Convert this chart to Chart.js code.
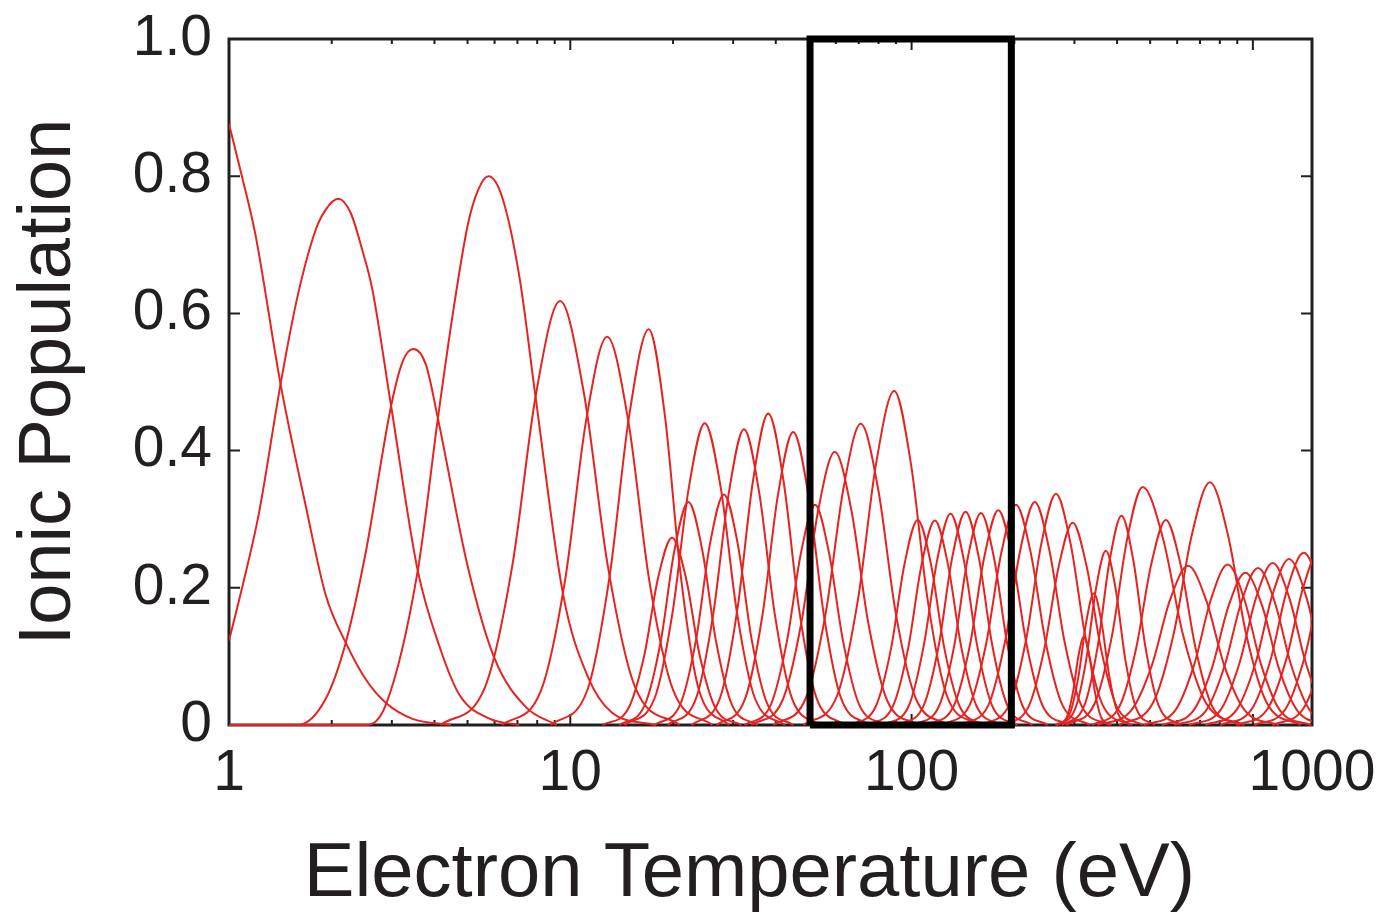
<!DOCTYPE html>
<html>
<head>
<meta charset="utf-8">
<script src="https://cdn.jsdelivr.net/npm/chart.js@4.4.1/dist/chart.umd.min.js"></script>
<style>
  html, body { margin: 0; padding: 0; background: #fff; }
  canvas { display: block; }
</style>
</head>
<body>
<canvas id="pop" width="1386" height="919"></canvas>
<script>
// ionic population curves, [electron temperature (eV), population]
const ion00 = [[1,.876],[1.091,.80],[1.194,.716],[1.416,.497],[1.679,.319],[1.919,.19],[2.198,.12],[2.512,.067],[2.884,.032],[3.451,.009],[4.467,0]];
const ion01 = [[1,.123],[1.091,.199],[1.222,.307],[1.416,.497],[1.585,.623],[1.795,.722],[1.919,.751],[2.089,.767],[2.275,.746],[2.455,.693],[2.630,.635],[2.985,.465],[3.573,.225],[4.140,.114],[4.732,.044],[5.754,.01],[7.079,0]];
const ion02 = [[1,0],[1.585,0],[1.919,.038],[2.198,.12],[2.512,.25],[2.985,.465],[3.228,.53],[3.467,.548],[3.776,.525],[4.093,.447],[5.012,.23],[5.998,.097],[7.413,.026],[9.120,0]];
const ion03 = [[1,0],[2.512,0],[2.884,.03],[3.573,.225],[4.093,.447],[4.529,.60],[5.012,.73],[5.370,.78],[5.754,.80],[6.310,.77],[7.112,.65],[7.907,.479],[9.528,.19],[11.22,.072],[13.18,.019],[17.78,0]];
const ion04 = [[4.169,0],[5.623,.055],[6.761,.232],[7.943,.484],[9.333,.618],[10.96,.484],[12.88,.232],[15.49,.055],[20.89,0]];
const ion05 = [[6.310,0],[8.204,.050],[9.661,.212],[11.12,.443],[12.82,.566],[14.79,.443],[17.02,.212],[20.04,.050],[26.06,0]];
const ion06 = [[8.770,0],[11.22,.051],[13.03,.216],[14.89,.452],[16.98,.577],[18.92,.452],[21.09,.216],[23.82,.051],[29.17,0]];
const ion07 = [[12.45,0],[14.79,.024],[16.48,.102],[18.07,.214],[19.86,.273],[21.83,.214],[23.93,.102],[26.67,.024],[31.70,0]];
const ion08 = [[13.90,0],[16.52,.029],[18.41,.122],[20.18,.254],[22.18,.325],[24.38,.254],[26.73,.122],[29.79,.029],[35.40,0]];
const ion09 = [[14.42,0],[17.66,.039],[19.95,.165],[22.23,.345],[24.77,.44],[27.61,.345],[30.76,.165],[34.75,.039],[42.56,0]];
const ion10 = [[17.66,0],[20.99,.030],[23.39,.126],[25.64,.263],[28.18,.336],[30.97,.263],[33.96,.126],[37.84,.030],[44.98,0]];
const ion11 = [[19.28,0],[23.33,.038],[26.24,.162],[29.11,.337],[32.28,.431],[35.81,.337],[39.72,.162],[44.67,.038],[54.08,0]];
const ion12 = [[22.70,0],[27.48,.040],[30.90,.170],[34.28,.355],[38.02,.454],[42.17,.355],[46.77,.170],[52.60,.040],[63.68,0]];
const ion13 = [[26.85,0],[32.51,.038],[36.56,.160],[40.55,.334],[44.98,.427],[49.89,.334],[55.34,.160],[62.23,.038],[75.34,0]];
const ion14 = [[32.43,0],[38.64,.029],[43.05,.120],[47.42,.251],[52.12,.321],[57.28,.251],[63.10,.120],[70.31,.029],[83.95,0]];
const ion15 = [[33.88,0],[41.78,.035],[47.53,.149],[53.21,.312],[59.57,.398],[66.68,.312],[74.65,.149],[84.92,.035],[104.7,0]];
const ion16 = [[39.40,0],[48.98,.039],[56.10,.165],[63.10,.344],[70.96,.439],[79.80,.344],[89.74,.165],[102.8,.039],[127.8,0]];
const ion17 = [[48.19,0],[60.53,.043],[69.66,.183],[78.70,.381],[88.92,.487],[99.54,.381],[111.4,.183],[126.8,.043],[156.3,0]];
const ion18 = [[66.37,0],[78.52,.027],[87.10,.112],[95.28,.234],[104.2,.299],[114.0,.234],[124.7,.112],[138.4,.027],[163.7,0]];
const ion19 = [[74.47,0],[88.10,.027],[97.72,.112],[106.9,.233],[117.0,.298],[127.9,.233],[140.0,.112],[155.2,.027],[183.7,0]];
const ion20 = [[82.79,0],[97.95,.027],[108.6,.116],[118.9,.241],[130.0,.308],[142.2,.241],[155.6,.116],[172.6,.027],[204.2,0]];
const ion21 = [[91.62,0],[108.4,.028],[120.2,.117],[131.5,.244],[143.9,.311],[157.4,.244],[172.2,.117],[191.0,.028],[225.9,0]];
const ion22 = [[101.6,0],[120.2,.027],[133.4,.116],[145.9,.242],[159.6,.309],[174.6,.242],[191.0,.116],[211.8,.027],[250.6,0]];
const ion23 = [[111.5,0],[133.0,.028],[148.3,.117],[163.3,.245],[179.5,.313],[197.2,.245],[217.3,.117],[242.1,.028],[288.7,0]];
const ion24 = [[122.7,0],[147.9,.029],[165.6,.120],[183.2,.251],[202.3,.321],[223.4,.251],[247.2,.120],[276.7,.029],[333.4,0]];
const ion25 = [[139.3,0],[167.9,.029],[187.9,.122],[208.0,.254],[229.6,.325],[253.5,.254],[280.5,.122],[314.1,.029],[378.4,0]];
const ion26 = [[160.7,0],[193.6,.030],[216.8,.126],[239.9,.264],[264.9,.337],[292.4,.264],[323.6,.126],[362.2,.030],[436.5,0]];
const ion27 = [[184.4,0],[219.8,.026],[244.9,.111],[269.8,.231],[296.5,.295],[325.8,.231],[358.9,.111],[399.9,.026],[477.0,0]];
const ion28 = [[265.8,0],[284.7,.011],[297.1,.048],[308.3,.101],[319.9,.129],[331.9,.101],[344.5,.048],[359.4,.011],[385.1,0]];
const ion29 = [[264.2,0],[290.9,.017],[308.5,.072],[324.8,.150],[342.0,.192],[360.1,.150],[379.2,.072],[402.3,.017],[442.6,0]];
const ion30 = [[266.4,0],[301.2,.023],[324.8,.095],[347.0,.199],[370.7,.254],[396.0,.199],[423.0,.095],[456.2,.023],[515.8,0]];
const ion31 = [[275.4,0],[319.9,.027],[350.8,.114],[380.2,.239],[412.1,.305],[446.7,.239],[484.2,.114],[530.9,.027],[616.6,0]];
const ion32 = [[283.8,0],[343.6,.031],[386.4,.130],[428.5,.272],[475.3,.347],[545.3,.272],[625.2,.130],[731.1,.031],[943.0,0]];
const ion33 = [[337.3,0],[406.4,.027],[455.0,.112],[503.5,.234],[555.9,.299],[613.8,.234],[679.2,.112],[760.3,.027],[916.2,0]];
const ion34 = [[349.9,0],[439.5,.021],[505.8,.087],[571.5,.182],[645.7,.232],[729.5,.182],[824.1,.087],[948.4,.021],[1191,0]];
const ion35 = [[405.5,0],[509.3,.032],[586.1,.133],[662.2,.277],[748.2,.354],[845.3,.277],[955.0,.133],[1099,.032],[1380,0]];
const ion36 = [[479.7,0],[591.6,.021],[673.0,.088],[753.4,.183],[843.3,.234],[944.1,.183],[1057,.088],[1202,.021],[1483,0]];
const ion37 = [[540.8,0],[666.8,.020],[758.6,.083],[849.2,.174],[950.6,.222],[1064,.174],[1191,.083],[1355,.020],[1671,0]];
const ion38 = [[588.8,0],[726.1,.020],[826.0,.086],[924.7,.179],[1035,.229],[1159,.179],[1297,.086],[1476,.020],[1820,0]];
const ion39 = [[650.1,0],[801.7,.021],[912.0,.089],[1021,.185],[1143,.236],[1279,.185],[1432,.089],[1629,.021],[2009,0]];
const ion40 = [[726.1,0],[895.4,.022],[1019,.091],[1140,.189],[1276,.242],[1429,.189],[1600,.091],[1820,.022],[2244,0]];
const ion41 = [[801.7,0],[988.6,.022],[1125,.094],[1259,.197],[1409,.251],[1578,.197],[1766,.094],[2009,.022],[2477,0]];
const ion42 = [[893.3,0],[1102,.023],[1253,.096],[1403,.200],[1570,.255],[1758,.200],[1968,.096],[2239,.023],[2761,0]];
const ion43 = [[1009,0],[1245,.023],[1416,.098],[1585,.204],[1774,.26],[1986,.204],[2223,.098],[2529,.023],[3119,0]];
const ion44 = [[1140,0],[1406,.024],[1600,.099],[1791,.207],[2004,.265],[2244,.207],[2512,.099],[2858,.024],[3524,0]];

const ionCurves = [ion00, ion01, ion02, ion03, ion04, ion05, ion06, ion07, ion08, ion09,
  ion10, ion11, ion12, ion13, ion14, ion15, ion16, ion17, ion18, ion19,
  ion20, ion21, ion22, ion23, ion24, ion25, ion26, ion27, ion28, ion29,
  ion30, ion31, ion32, ion33, ion34, ion35, ion36, ion37, ion38, ion39,
  ion40, ion41, ion42, ion43, ion44];

// highlighted temperature window (eV)
const boxT = [50.4, 196];

// axes
const xMin = 1, xMax = 1490;
const xLabelAt = [1, 10, 100, xMax];
const xLabelText = ['1', '10', '100', '1000'];
const xMajorTicks = [1, 10, 100, 1000];
const xMinorTicks = [2, 3, 4, 5, 6, 7, 8, 9, 20, 30, 40, 50, 60, 70, 80, 90, 200, 300, 400, 500, 600, 700, 800, 900];
const yTicks = [0, 0.2, 0.4, 0.6, 0.8, 1.0];

const INK = '#231f20';
const RED = '#e52421';
const FONT = '"Liberation Sans", Arial, Helvetica, sans-serif';

// inward tick marks and frame, MATLAB style
const frameTicks = {
  id: 'frameTicks',
  beforeDatasetsDraw(chart) {
    const { ctx, chartArea: a, scales: { x, y } } = chart;
    ctx.save();
    ctx.strokeStyle = INK;
    ctx.lineWidth = 2;
    ctx.beginPath();
    xMinorTicks.forEach(v => {
      const px = x.getPixelForValue(v);
      ctx.moveTo(px, a.bottom); ctx.lineTo(px, a.bottom - 5);
      ctx.moveTo(px, a.top); ctx.lineTo(px, a.top + 5);
    });
    xMajorTicks.forEach(v => {
      const px = x.getPixelForValue(v);
      ctx.moveTo(px, a.bottom); ctx.lineTo(px, a.bottom - 11);
      ctx.moveTo(px, a.top); ctx.lineTo(px, a.top + 11);
    });
    yTicks.forEach(v => {
      const py = y.getPixelForValue(v);
      ctx.moveTo(a.left, py); ctx.lineTo(a.left + 11, py);
      ctx.moveTo(a.right, py); ctx.lineTo(a.right - 11, py);
    });
    ctx.stroke();
    ctx.lineWidth = 3;
    ctx.strokeRect(a.left, a.top, a.right - a.left, a.bottom - a.top);
    ctx.restore();
  }
};

const datasets = ionCurves.map(pts => ({
  data: pts.map(([t, p]) => ({ x: t, y: p })),
  borderColor: RED,
  borderWidth: 2,
  pointRadius: 0,
  cubicInterpolationMode: 'monotone',
  fill: false,
  clip: { left: 0, top: 0, right: 0, bottom: 2 }
}));

datasets.push({
  data: [
    { x: boxT[0], y: 0 }, { x: boxT[0], y: 1 },
    { x: boxT[1], y: 1 }, { x: boxT[1], y: 0 }, { x: boxT[0], y: 0 }
  ],
  borderColor: '#000',
  borderWidth: 7,
  borderJoinStyle: 'miter',
  pointRadius: 0,
  tension: 0,
  fill: false,
  clip: false,
  order: -1
});

new Chart(document.getElementById('pop'), {
  type: 'line',
  data: { datasets },
  plugins: [frameTicks],
  options: {
    responsive: false,
    animation: false,
    events: [],
    layout: { padding: { top: 39, right: 74, left: 0, bottom: 0 } },
    plugins: { legend: { display: false }, tooltip: { enabled: false } },
    scales: {
      x: {
        type: 'logarithmic',
        min: xMin,
        max: xMax,
        grid: { display: false, drawTicks: false },
        border: { display: false },
        afterBuildTicks: s => { s.ticks = xLabelAt.map(v => ({ value: v })); },
        afterFit: s => { s.height = 194; s.paddingLeft = 0; s.paddingRight = 0; },
        ticks: {
          autoSkip: false,
          maxRotation: 0,
          padding: 15,
          color: INK,
          font: { family: FONT, size: 57 },
          callback: (v, i) => xLabelText[i]
        },
        title: {
          display: true,
          text: 'Electron Temperature (eV)\u00a0\u00a0',
          color: INK,
          font: { family: FONT, size: 76, lineHeight: 1.15 },
          padding: 0
        }
      },
      y: {
        type: 'linear',
        min: 0,
        max: 1,
        grid: { display: false, drawTicks: false },
        border: { display: false },
        afterBuildTicks: s => { s.ticks = yTicks.map(v => ({ value: v })); },
        afterFit: s => { s.width = 229; s.paddingTop = 0; s.paddingBottom = 0; },
        ticks: {
          padding: 17,
          color: INK,
          font: { family: FONT, size: 57 },
          callback: v => (v === 0 ? '0' : v.toFixed(1))
        },
        title: {
          display: true,
          text: 'Ionic Population',
          color: INK,
          font: { family: FONT, size: 74, lineHeight: 1.2 },
          padding: { top: 5, bottom: 0 }
        }
      }
    }
  }
});
</script>
</body>
</html>
